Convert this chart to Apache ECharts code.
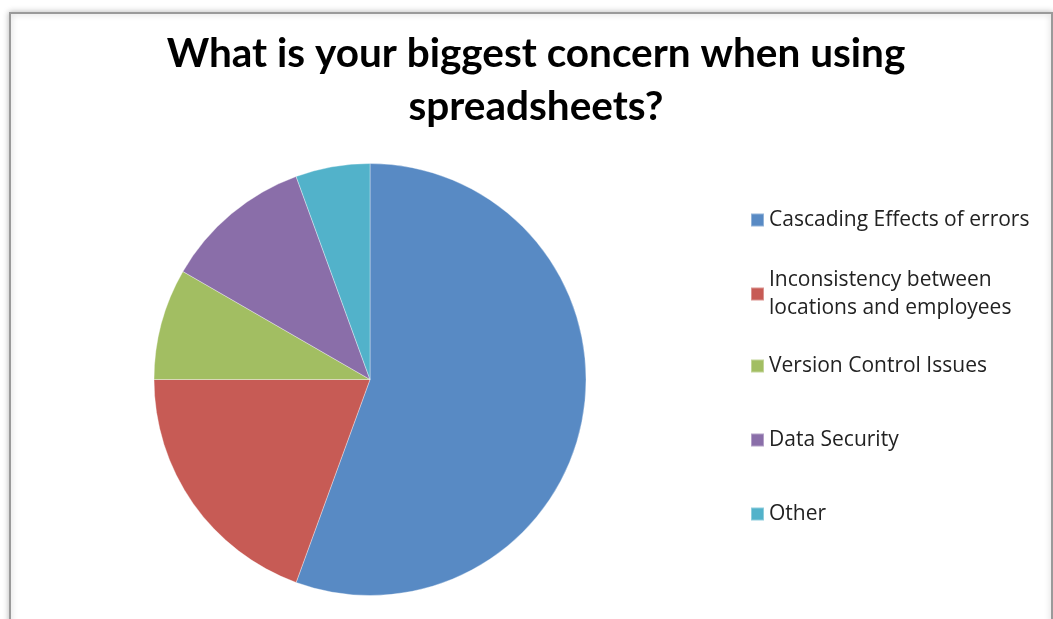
<!DOCTYPE html>
<html>
<head>
<meta charset="utf-8">
<script src="https://cdn.jsdelivr.net/npm/echarts@6/dist/echarts.min.js"></script>
<style>
html,body{margin:0;padding:0;background:#fff;}
#chart{width:1053px;height:619px;}
</style>
</head>
<body>
<div id="chart"></div>
<script>
const titleText = "What is your biggest concern when using\nspreadsheets?";
const categories = [
  "Cascading Effects of errors",
  "Inconsistency between locations and employees",
  "Version Control Issues",
  "Data Security",
  "Other"
];
const legendLabels = [
  "Cascading Effects of errors",
  "Inconsistency between\nlocations and employees",
  "Version Control Issues",
  "Data Security",
  "Other"
];
const values = [20, 7, 3, 4, 2];
const colors = ["#588AC4", "#C75B55", "#A2BE62", "#8A6EA9", "#52B2CA"];

const legendTops = [218, 292, 364, 438, 512];
const legends = categories.map((name, i) => {
  const multi = legendLabels[i].indexOf("\n") >= 0;
  return {
    orient: 'vertical',
    left: 750,
    top: legendTops[i] + 2 - (multi ? 42 : 14),
    padding: 0,
    itemGap: 0,
    itemWidth: 13,
    itemHeight: 13,
    icon: 'rect',
    selectedMode: false,
    data: [name],
    formatter: () => legendLabels[i],
    textStyle: Object.assign({
      fontFamily: 'Open Sans',
      fontSize: 21,
      color: '#222',
      lineHeight: 28
    }, multi ? { padding: [28, 0, 0, 0] } : {})
  };
});

const chart = echarts.init(document.getElementById('chart'), null, { renderer: 'canvas' });
chart.setOption({
  animation: false,
  backgroundColor: '#fff',
  color: colors,
  graphic: [{
    type: 'rect',
    z: -10,
    shape: { x: 10, y: 13, width: 1042, height: 640 },
    style: { fill: '#fff', stroke: '#9a9a9a', lineWidth: 2, shadowBlur: 6, shadowColor: 'rgba(0,0,0,0.25)' }
  }],
  title: {
    text: titleText,
    left: 531,
    top: 22,
    textAlign: 'center',
    textStyle: {
      fontFamily: 'Lato',
      fontWeight: 'bold',
      fontSize: 40.5,
      lineHeight: 53,
      color: '#000'
    }
  },
  legend: legends,
  series: [{
    type: 'pie',
    center: [370, 379.5],
    radius: 216,
    startAngle: 90,
    clockwise: true,
    label: { show: false },
    labelLine: { show: false },
    emphasis: { disabled: true },
    itemStyle: { borderColor: 'rgba(255,255,255,0.35)', borderWidth: 1 },
    data: categories.map((name, i) => ({ name: name, value: values[i] }))
  }]
});
</script>
</body>
</html>
